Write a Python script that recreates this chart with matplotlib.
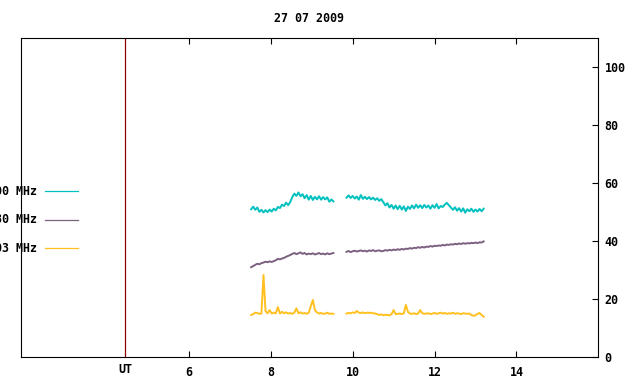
import numpy as np
import matplotlib
matplotlib.use("Agg")
import matplotlib.pyplot as plt
from matplotlib.lines import Line2D
from matplotlib.transforms import blended_transform_factory

# two observing blocks, regular sampling (hours UT)
seg1_start, seg1_end = 7.52, 9.53
seg2_start, seg2_end = 9.85, 13.20

teal_1 = [51.0, 51.9, 50.8, 51.6, 50.1, 50.8, 49.9, 50.7, 50.0, 50.9,
          50.2, 51.2, 50.6, 51.8, 51.4, 52.6, 52.1, 53.3, 52.4, 53.5,
          55.2, 56.4, 55.6, 56.8, 55.5, 56.2, 54.8, 55.9, 54.3, 55.6,
          54.2, 55.3, 54.4, 55.5, 54.3, 55.2, 54.4, 55.1, 53.6, 54.4, 53.7]
teal_2 = [55.0, 55.8, 54.9, 55.6, 54.7, 55.4, 54.3, 55.9, 54.6, 55.3,
          54.5, 55.2, 54.4, 55.0, 54.2, 54.8, 53.9, 54.5, 53.4, 52.3,
          53.1, 51.6, 52.5, 51.2, 52.3, 51.0, 52.2, 50.9, 52.0, 50.4,
          51.9, 51.1, 52.3, 51.3, 52.6, 51.5, 52.4, 51.4, 52.5, 51.6,
          52.3, 51.2, 52.4, 51.5, 52.8, 51.3, 52.1, 51.8, 52.6, 53.2,
          52.4, 51.6, 50.8, 51.7, 50.5, 51.4, 50.2, 51.3, 49.8, 51.0,
          50.3, 51.2, 50.1, 50.9, 50.2, 51.1, 50.3, 51.2]

purple_1 = [31.0, 31.4, 31.8, 32.2, 32.0, 32.4, 32.6, 32.9, 32.7, 33.0,
            32.8, 33.1, 33.4, 33.9, 33.7, 34.0, 34.2, 34.6, 34.9, 35.2,
            35.6, 35.9, 35.5, 35.8, 36.1, 35.6, 35.9, 35.4, 35.7, 35.5,
            35.8, 35.4, 35.6, 35.9, 35.5, 35.7, 35.4, 35.8, 35.5, 35.7, 35.9]
purple_2 = [36.3, 36.6, 36.2, 36.5, 36.7, 36.4, 36.6, 36.8, 36.5, 36.7,
            36.4, 36.8, 36.6, 36.9, 36.5, 36.7, 36.8, 36.5, 36.6, 36.9,
            36.7, 37.0, 36.8, 37.1, 36.9, 37.2, 37.0, 37.3, 37.1, 37.4,
            37.3, 37.6, 37.4, 37.7, 37.6, 37.9, 37.7, 38.0, 37.8, 38.1,
            38.0, 38.3, 38.1, 38.4, 38.3, 38.5, 38.4, 38.7, 38.5, 38.8,
            38.7, 38.9, 38.8, 39.1, 38.9, 39.2, 39.0, 39.3, 39.1, 39.3,
            39.2, 39.4, 39.3, 39.5, 39.3, 39.6, 39.5, 39.9]

gold_1 = [14.5, 14.8, 15.3, 15.2, 14.9, 15.0, 28.3, 15.8, 15.1, 16.2,
          15.0, 15.3, 15.1, 17.2, 15.0, 15.6, 15.1, 15.4, 15.0, 15.2,
          14.9, 15.3, 16.8, 15.1, 15.4, 15.0, 15.2, 14.9, 15.3, 17.5,
          19.7, 16.2, 15.4, 15.0, 15.2, 14.9, 15.0, 15.3, 14.9, 15.0, 14.9]
gold_2 = [15.0, 15.2, 15.1, 15.4, 15.2, 15.9, 15.3, 15.2, 15.4, 15.1,
          15.3, 15.2, 15.3, 15.1, 15.0, 14.8, 14.5, 14.7, 14.4, 14.6,
          14.5, 14.4, 14.8, 16.2, 14.8, 14.9, 15.0, 14.8, 15.1, 18.0,
          15.6, 15.0, 14.9, 15.1, 14.8, 15.0, 16.2, 15.1, 14.9, 15.0,
          15.1, 14.8, 15.0, 15.2, 14.9, 15.1, 15.3, 15.0, 15.2, 14.9,
          15.1, 15.0, 15.3, 14.9, 15.1, 15.0, 14.8, 15.1, 15.0, 14.9,
          15.0, 14.5, 14.2, 14.4, 14.9, 15.2, 14.5, 13.9]

labels = ["3000 MHz", "2980 MHz", "1403 MHz"]
colors = ["#00c0c0", "#7c6080", "#ffc020"]
title = "27 07 2009"
x_ticks = [6, 8, 10, 12, 14]
y_ticks = [0, 20, 40, 60, 80, 100]
ut_pos = 4.45

t1 = np.linspace(seg1_start, seg1_end, len(teal_1))
t2 = np.linspace(seg2_start, seg2_end, len(teal_2))

font = {"family": "DejaVu Sans Mono", "weight": "bold", "size": 8.4}

fig = plt.figure(figsize=(6.4, 3.84), dpi=100)
ax = fig.add_axes([0.0323, 0.0703, 0.9025, 0.8299])

for (s1, s2), c in zip([(teal_1, teal_2), (purple_1, purple_2), (gold_1, gold_2)], colors):
    ax.plot(t1, s1, color=c, lw=1.4)
    ax.plot(t2, s2, color=c, lw=1.4)

ax.axvline(ut_pos, color="#8b0000", lw=0.9)

ax.set_xlim(1.89, 16)
ax.set_ylim(0, 110)
ax.set_xticks(x_ticks)
ax.set_yticks(y_ticks)
ax.set_xticklabels([str(v) for v in x_ticks], fontdict=font)
ax.set_yticklabels([str(v) for v in y_ticks], fontdict=font)
ax.yaxis.tick_right()
ax.tick_params(axis="x", direction="in", length=4.5, width=0.8, top=True, bottom=True, pad=6.5)
ax.tick_params(axis="y", direction="in", length=4.5, width=0.8, left=False, right=True, pad=4.5)
for sp in ax.spines.values():
    sp.set_linewidth(0.8)

trans = blended_transform_factory(ax.transData, ax.transAxes)
ax.text(ut_pos, -0.02, "UT", transform=trans, ha="center", va="top", **font)

fig.text(309.5 / 640, 1 - 19 / 384, title, ha="center", va="center", **font)

# legend sits outside the left border, cut by the figure edge as in the original
for i, (lab, c) in enumerate(zip(labels, colors)):
    y = 1 - (191.3 + 28.5 * i) / 384
    fig.text(37 / 640, y, lab, ha="right", va="center", **font)
    fig.add_artist(Line2D([45 / 640, 77.7 / 640], [y, y], color=c, lw=0.9,
                          transform=fig.transFigure))

fig.savefig("out.png", dpi=100)
